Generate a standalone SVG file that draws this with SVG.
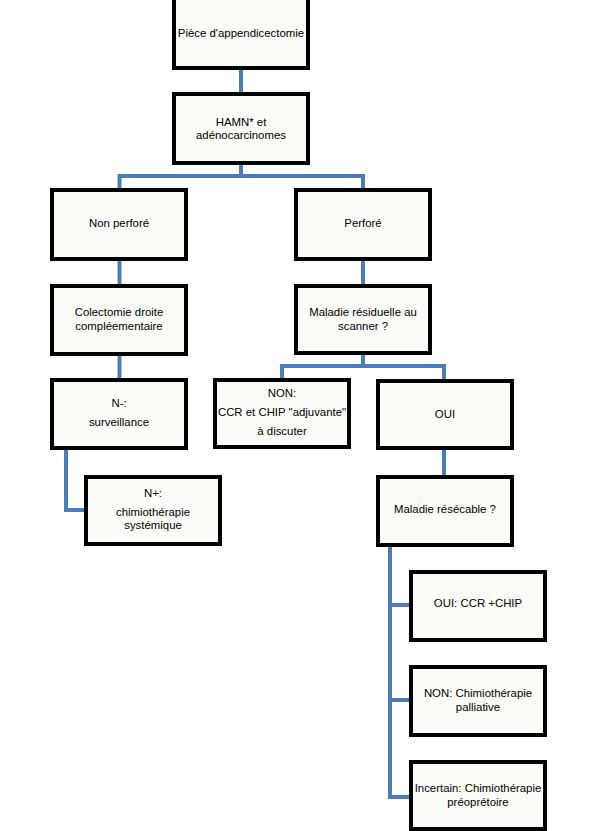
<svg xmlns="http://www.w3.org/2000/svg" width="597" height="831" viewBox="0 0 597 831">
<style>
.box{fill:#fbfcf8;stroke:#000;stroke-width:4}
.t{font-family:"Liberation Sans",Arial,sans-serif;font-size:11.4px;fill:#000;text-anchor:middle}
.c{fill:none;stroke:#4a7ebb;stroke-width:4;stroke-linejoin:miter}
</style>
<rect width="597" height="831" fill="#fff"/>
<g id="connectors">
<path class="c" d="M241 68V93"/>
<path class="c" d="M241 163V176H119.5V190M241 176H363V190"/>
<path class="c" d="M119.5 259V285"/>
<path class="c" d="M363 259V286"/>
<path class="c" d="M119.5 354V379"/>
<path class="c" d="M66 449V510H85"/>
<path class="c" d="M363 353V366H282V379M363 366H444V380"/>
<path class="c" d="M444 448V476"/>
<path class="c" d="M390 545V797H410M390 605H410M390 700H410"/>
</g>
<g id="n1"><rect class="box" x="174" y="-2" width="134" height="70"/><text class="t" x="241" y="37">Pièce d'appendicectomie</text></g>
<g id="n2"><rect class="box" x="174" y="94" width="134" height="69"/><text class="t" x="241" y="126">HAMN* et</text><text class="t" x="241" y="139">adénocarcinomes</text></g>
<g id="n3"><rect class="box" x="52" y="190" width="134" height="69"/><text class="t" x="119" y="227">Non perforé</text></g>
<g id="n4"><rect class="box" x="296" y="190" width="134" height="69"/><text class="t" x="363" y="227">Perforé</text></g>
<g id="n5"><rect class="box" x="52" y="286" width="134" height="68"/><text class="t" x="119" y="316">Colectomie droite</text><text class="t" x="119" y="330">compléementaire</text></g>
<g id="n6"><rect class="box" x="296" y="286" width="134" height="67"/><text class="t" x="363" y="316">Maladie résiduelle au</text><text class="t" x="363" y="330">scanner ?</text></g>
<g id="n7"><rect class="box" x="52" y="380" width="134" height="68"/><text class="t" x="119" y="407">N-:</text><text class="t" x="119" y="426">surveillance</text></g>
<g id="n8"><rect class="box" x="215" y="380" width="134" height="67"/><text class="t" x="282" y="397">NON:</text><text class="t" x="282" y="416">CCR et CHIP "adjuvante"</text><text class="t" x="282" y="435">à discuter</text></g>
<g id="n9"><rect class="box" x="378" y="381" width="134" height="67"/><text class="t" x="445" y="418">OUI</text></g>
<g id="n10"><rect class="box" x="86" y="477" width="134" height="67"/><text class="t" x="153" y="497">N+:</text><text class="t" x="153" y="516">chimiothérapie</text><text class="t" x="153" y="529">systémique</text></g>
<g id="n11"><rect class="box" x="378" y="477" width="134" height="68"/><text class="t" x="445" y="513">Maladie résécable ?</text></g>
<g id="n12"><rect class="box" x="411" y="572" width="134" height="68"/><text class="t" x="478" y="607">OUI: CCR +CHIP</text></g>
<g id="n13"><rect class="box" x="411" y="667" width="134" height="68"/><text class="t" x="478" y="697">NON: Chimiothérapie</text><text class="t" x="478" y="711">palliative</text></g>
<g id="n14"><rect class="box" x="411" y="762" width="134" height="67"/><text class="t" x="478" y="792">Incertain: Chimiothérapie</text><text class="t" x="478" y="806">préoprétoire</text></g>
</svg>
